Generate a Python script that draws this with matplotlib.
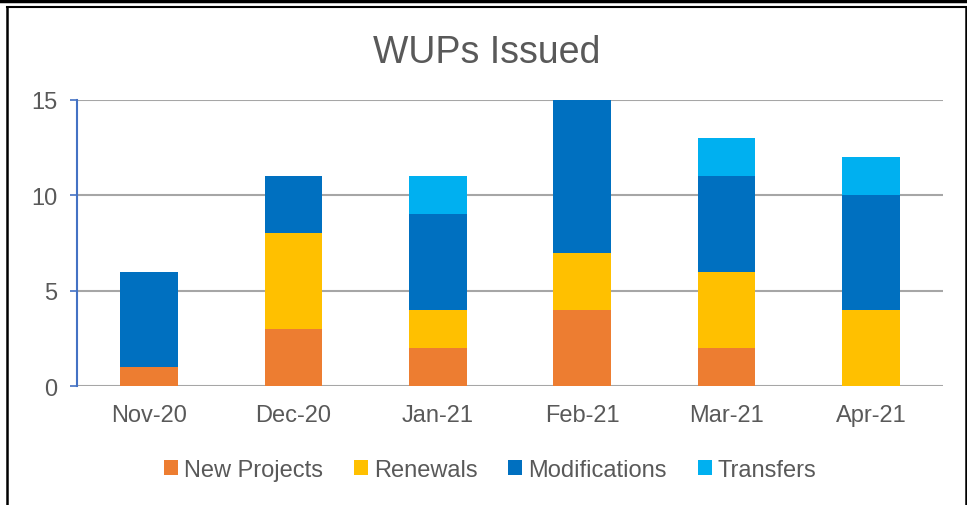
import numpy as np
import matplotlib
matplotlib.use('Agg')
import matplotlib.pyplot as plt
from matplotlib.lines import Line2D

plt.rcParams['font.family'] = ['Liberation Sans', 'DejaVu Sans']

months = ['Nov-20', 'Dec-20', 'Jan-21', 'Feb-21', 'Mar-21', 'Apr-21']
newProjects = [1, 3, 2, 4, 2, 0]
renewals = [0, 5, 2, 3, 4, 4]
modifications = [5, 3, 5, 8, 5, 6]
transfers = [0, 0, 2, 0, 2, 2]

seriesNames = ['New Projects', 'Renewals', 'Modifications', 'Transfers']
seriesColors = ['#ED7D31', '#FFC000', '#0070C0', '#00B0F0']
textColor = '#595959'

fig = plt.figure(figsize=(9.67, 5.06), dpi=100)
ax = fig.add_axes([77 / 967, 1 - 387 / 506, 866 / 967, 286 / 506])

x = np.arange(len(months))
bottom = np.zeros(len(months))
for name, vals, col in zip(seriesNames, [newProjects, renewals, modifications, transfers], seriesColors):
  ax.bar(x, vals, 0.4, bottom=bottom, color=col, label=name, zorder=3)
  bottom += np.array(vals)

ax.set_xlim(-0.5, len(months) - 0.5)
ax.set_ylim(0, 15)
ax.set_yticks([0, 5, 10, 15])
ax.set_xticks(x)
ax.set_xticklabels(months)
ax.yaxis.grid(True, color='#A6A6A6', linewidth=1.5, zorder=0)

for s in ['top', 'right', 'bottom']:
  ax.spines[s].set_visible(False)
ax.spines['left'].set_color('#4472C4')
ax.spines['left'].set_linewidth(1.5)
ax.tick_params(axis='y', colors='#4472C4', length=5, width=1.2, labelcolor=textColor,
               labelsize=17, pad=9)
ax.tick_params(axis='x', length=0, labelcolor=textColor, labelsize=17, pad=13)

fig.text(0.503, 1 - 53 / 506, 'WUPs Issued', ha='center', va='center',
         fontsize=27, color=textColor)

leg = fig.legend(loc='center', bbox_to_anchor=(0.507, 1 - 471 / 506), ncol=4,
                 frameon=False, fontsize=17, handlelength=0.6, handleheight=0.6,
                 handletextpad=0.25, columnspacing=1.3, borderpad=0)
for t in leg.get_texts():
  t.set_color(textColor)

# outer frame like the screenshot
fig.add_artist(Line2D([0, 1], [1 - 1.5 / 506, 1 - 1.5 / 506], color='black', linewidth=2.5))
fig.add_artist(Line2D([7 / 967, 965.5 / 967], [1 - 8 / 506, 1 - 8 / 506], color='black', linewidth=1.5))
fig.add_artist(Line2D([7 / 967, 7 / 967], [0, 1 - 8 / 506], color='black', linewidth=1.8))
fig.add_artist(Line2D([965.5 / 967, 965.5 / 967], [0, 1 - 8 / 506], color='black', linewidth=1.8))

fig.savefig('out.png', dpi=100)
